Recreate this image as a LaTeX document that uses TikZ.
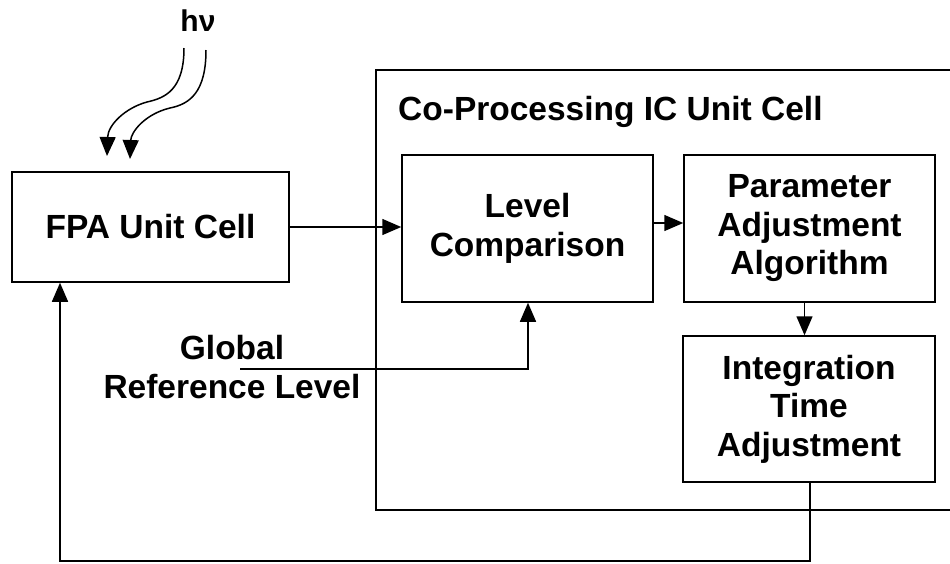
\documentclass[tikz,border=0pt]{standalone}
\usepackage{fontspec}
\setmainfont{Liberation Sans}
\usetikzlibrary{arrows.meta}

\tikzset{
  lbl/.style={font=\fontsize{33.5}{38.5}\selectfont\bfseries, align=center, inner sep=0pt},
  blockbox/.style={draw, line width=1.5pt, inner sep=0pt, align=center,
    font=\fontsize{33.5}{38.5}\selectfont\bfseries},
  wire/.style={line width=1.5pt},
  arr/.style={wire, -{Triangle[length=19pt,width=16pt]}},
}

\begin{document}
\begin{tikzpicture}[x=1pt, y=-1pt]
  \useasboundingbox (0,0) rectangle (950,563);

  % photon input
  \node[font=\fontsize{30}{32}\selectfont\bfseries, inner sep=0pt] (hnu) at (198,21) {hν};
  \coordinate (p1s) at (184,48);
  \coordinate (p1e) at (107,156);
  \coordinate (p2s) at (206,50);
  \coordinate (p2e) at (130,159);
  \draw[arr] (p1s) .. controls (184,90) and (165,98) .. (147,102)
                   .. controls (125,108) and (108,125) .. (p1e);
  \draw[arr] (p2s) .. controls (206,92) and (190,104) .. (170,108)
                   .. controls (145,114) and (131,132) .. (p2e);

  % FPA block
  \node[blockbox, minimum width=277pt, minimum height=110pt] (fpa) at (150.5,227) {FPA Unit Cell};

  % co-processing enclosure (runs off the right edge)
  \coordinate (encTL) at (376,70);
  \coordinate (encBL) at (376,510);
  \draw[wire] (952,70) -- (encTL) -- (encBL) -- (952,510);
  \node[lbl, anchor=base west] (title) at (398,120) {Co-Processing IC Unit Cell};

  % inner blocks
  \node[blockbox, minimum width=251pt, minimum height=147pt] (level) at (527.5,228.5) {Level\\Comparison};
  \node[blockbox, minimum width=251pt, minimum height=147pt] (param) at (809.5,228.5) {Parameter\\Adjustment\\Algorithm};
  \node[blockbox, minimum width=252pt, minimum height=146pt] (integ) at (809,409) {Integration\\Time\\Adjustment};

  % global reference input
  \node[lbl] (gref) at (232,367) {Global\\Reference Level};
  \coordinate (grefS) at (240,369);
  \coordinate (grefC) at (528,369);

  % signal flow
  \draw[arr] (fpa.east) -- (fpa.east -| level.west);
  \draw[arr] ([yshift=5.5pt]level.east) -- ([yshift=5.5pt]param.west);
  \draw[arr] ([xshift=-5pt]param.south) -- ([xshift=-5pt]param.south |- integ.north);
  \draw[arr] (grefS) -- (grefC) -- (grefC |- level.south);

  % feedback loop
  \coordinate (fbR) at (810,561);
  \coordinate (fbL) at (60,561);
  \draw[arr] (integ.south -| fbR) -- (fbR) -- (fbL) -- (fpa.south -| fbL);
\end{tikzpicture}
\end{document}
